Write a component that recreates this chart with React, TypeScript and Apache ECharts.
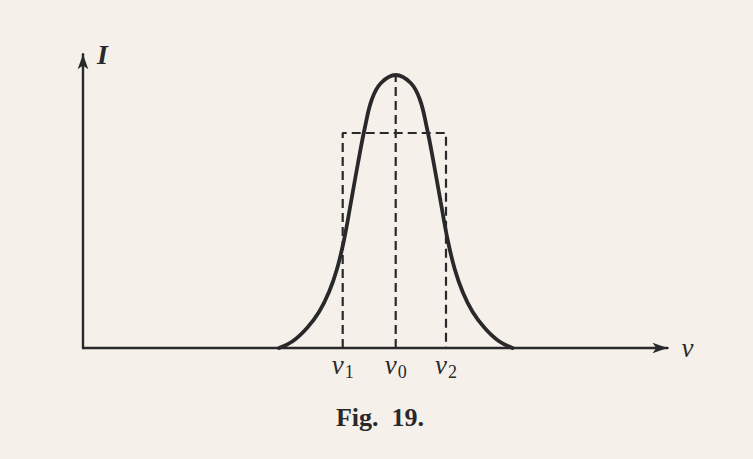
import React, { useEffect, useRef } from "react";
import * as echarts from "echarts";

// Spectral line profile: frequency ν (arbitrary units) against intensity I.
const curveNu = [
  19.6, 21.0, 22.4, 23.6, 24.6, 25.4, 26.1, 26.8, 27.5, 28.2, 28.9, 29.8,
  31.27, 32.77, 33.67, 34.37, 35.07, 35.77, 36.47, 37.17, 37.97, 38.97, 40.17,
  41.57, 42.95,
];
const curveI = [
  0, 0.7, 2.0, 3.6, 5.6, 7.9, 10.8, 14.6, 18.5, 22.1, 24.9, 26.5, 27.3, 26.5,
  24.9, 22.1, 18.5, 14.6, 10.8, 7.9, 5.6, 3.6, 2.0, 0.7, 0,
];

// Equivalent rectangular band: ν1, ν0, ν2 and its height.
const bandNu = [25.97, 31.27, 36.3];
const bandSubscripts = ["1", "0", "2"];
const bandHeight = 21.5;

const axisMaxNu = 58.45;
const axisMaxI = 29.38;

const INK = "#29292b";
const PAPER = "#f6f0ea";
const SERIF = "'Liberation Serif', 'DejaVu Serif', serif";

export default function App() {
  const ref = useRef<HTMLDivElement>(null);

  useEffect(() => {
    if (!ref.current) return;
    const chart = echarts.init(ref.current, undefined, { renderer: "svg" });

    const profile = curveNu.map((v, i) => [v, curveI[i]]);
    const peakI = Math.max(...curveI);
    const [nu1, nu0, nu2] = bandNu;
    const band = [
      [nu1, 0],
      [nu1, bandHeight],
      [nu2, bandHeight],
      [nu2, 0],
    ];
    const centre = [
      [nu0, 0],
      [nu0, peakI],
    ];

    const dashed = {
      type: "line" as const,
      symbol: "none",
      silent: true,
      lineStyle: { color: INK, width: 2.2, type: [9, 5] as number[] },
      z: 2,
    };

    chart.setOption({
      animation: false,
      backgroundColor: PAPER,
      grid: { left: 83, right: 85.5, top: 54.2, bottom: 111 },
      xAxis: {
        type: "value",
        min: 0,
        max: axisMaxNu,
        name: "ν",
        nameLocation: "end",
        nameGap: 14,
        nameTextStyle: {
          fontFamily: SERIF,
          fontStyle: "italic",
          fontSize: 27,
          color: INK,
          padding: [4, 0, 0, 0],
        },
        axisLine: {
          show: true,
          symbol: ["none", "arrow"],
          symbolSize: [8, 15],
          lineStyle: { color: INK, width: 2.4 },
        },
        axisTick: { show: false },
        splitLine: { show: false },
        axisLabel: {
          show: true,
          customValues: bandNu,
          margin: 3,
          formatter: (value: number) => {
            const idx = bandNu.findIndex((b) => Math.abs(b - value) < 1e-6);
            return idx < 0 ? "" : `{n|ν}{s|${bandSubscripts[idx]}}`;
          },
          rich: {
            n: {
              fontFamily: SERIF,
              fontStyle: "italic",
              fontSize: 27,
              color: INK,
              lineHeight: 26,
              verticalAlign: "top",
            },
            s: {
              fontFamily: SERIF,
              fontSize: 18,
              color: INK,
              lineHeight: 30,
              verticalAlign: "bottom",
              padding: [0, 0, 0, 1],
            },
          },
        },
      },
      yAxis: {
        type: "value",
        min: 0,
        max: axisMaxI,
        axisLine: {
          show: true,
          symbol: ["none", "arrow"],
          symbolSize: [8, 15],
          lineStyle: { color: INK, width: 2.4 },
        },
        axisTick: { show: false },
        axisLabel: { show: false },
        splitLine: { show: false },
      },
      graphic: [
        {
          type: "text",
          left: 97,
          top: 40,
          style: {
            text: "I",
            fontFamily: SERIF,
            fontStyle: "italic",
            fontWeight: "bold",
            fontSize: 28,
            fill: INK,
          },
        },
        {
          type: "text",
          x: 380,
          y: 404,
          style: {
            text: "Fig.\u00a0 19.",
            fontFamily: SERIF,
            fontWeight: "bold",
            fontSize: 26,
            fill: INK,
            align: "center",
          },
        },
      ],
      series: [
        { ...dashed, name: "band", data: band },
        { ...dashed, name: "centre", data: centre },
        {
          type: "line",
          name: "profile",
          data: profile,
          symbol: "none",
          smooth: 0.4,
          silent: true,
          lineStyle: { color: INK, width: 3.8, cap: "round" },
          z: 3,
        },
      ],
    });

    return () => chart.dispose();
  }, []);

  return (
    <div
      ref={ref}
      style={{ position: "fixed", left: 0, top: 0, width: 753, height: 459 }}
    />
  );
}
